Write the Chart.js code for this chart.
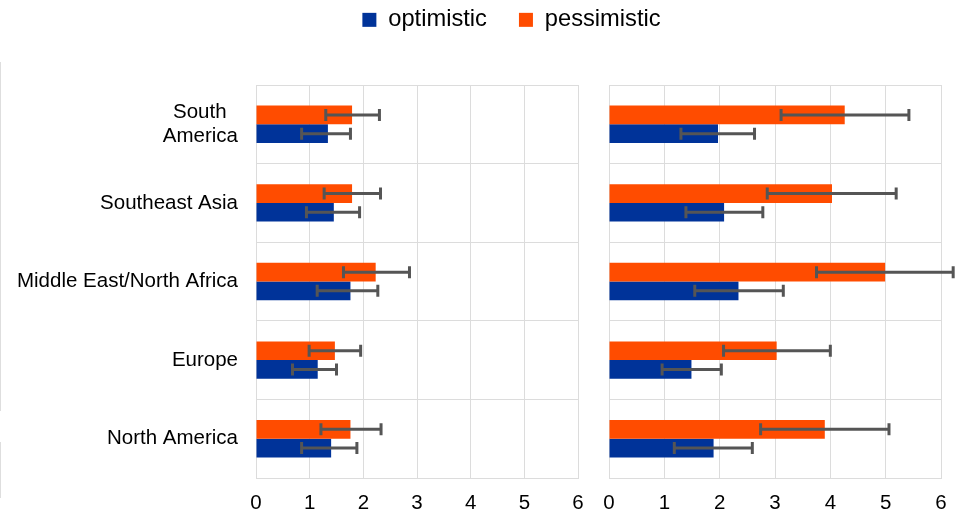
<!DOCTYPE html>
<html>
<head>
<meta charset="utf-8">
<script src="https://cdn.jsdelivr.net/npm/chart.js@4/dist/chart.umd.min.js"></script>
<style>
  html, body { margin: 0; padding: 0; background: #fff; overflow: hidden; }
  .panel { position: absolute; top: 0; height: 515px; }
  #leftWrap { left: 0; width: 600px; }
  #rightWrap { left: 82px; width: 887px; }
  .edge { position: absolute; left: 0; width: 1px; background: #dedede; }
</style>
</head>
<body>
<div class="edge" style="top:62px;height:349px"></div>
<div class="edge" style="top:442px;height:56px"></div>
<div class="panel" id="leftWrap"><canvas id="leftChart"></canvas></div>
<div class="panel" id="rightWrap"><canvas id="rightChart"></canvas></div>
<script>
// Regions, top to bottom
const categories = [['South', 'America'], 'Southeast Asia', 'Middle East/North Africa', 'Europe', 'North America'];
const seriesNames = ['optimistic', 'pessimistic'];
const xTicks = [0, 1, 2, 3, 4, 5, 6];

// Left panel
const leftOptimistic      = [1.34, 1.45, 1.76, 1.15, 1.40];
const leftOptimisticLow   = [0.85, 0.94, 1.14, 0.68, 0.85];
const leftOptimisticHigh  = [1.76, 1.93, 2.27, 1.50, 1.88];
const leftPessimistic     = [1.79, 1.79, 2.23, 1.47, 1.76];
const leftPessimisticLow  = [1.30, 1.27, 1.63, 0.99, 1.21];
const leftPessimisticHigh = [2.30, 2.32, 2.86, 1.95, 2.33];

// Right panel
const rightOptimistic      = [1.97, 2.08, 2.34, 1.49, 1.89];
const rightOptimisticLow   = [1.30, 1.39, 1.55, 0.96, 1.18];
const rightOptimisticHigh  = [2.63, 2.78, 3.15, 2.03, 2.59];
const rightPessimistic     = [4.26, 4.03, 4.99, 3.03, 3.90];
const rightPessimisticLow  = [3.11, 2.86, 3.75, 2.07, 2.74];
const rightPessimisticHigh = [5.42, 5.19, 6.22, 4.00, 5.06];

const BLUE = '#003399';
const ORANGE = '#ff4c00';
const GRID = '#dcdcdc';
const FONT = '"Liberation Sans", Arial, sans-serif';

// Whisker lines with end caps, drawn from each dataset's low/high arrays
const errorBars = {
  id: 'errorBars',
  afterDatasetsDraw(chart) {
    const ctx = chart.ctx;
    const x = chart.scales.x;
    ctx.save();
    ctx.strokeStyle = '#555555';
    ctx.lineWidth = 3;
    ctx.lineCap = 'butt';
    chart.data.datasets.forEach((ds, i) => {
      const meta = chart.getDatasetMeta(i);
      meta.data.forEach((bar, j) => {
        const lo = x.getPixelForValue(ds.errorLow[j]);
        const hi = x.getPixelForValue(ds.errorHigh[j]);
        const y = bar.y;
        const cap = 6;
        ctx.beginPath();
        ctx.moveTo(lo, y); ctx.lineTo(hi, y);
        ctx.moveTo(lo, y - cap); ctx.lineTo(lo, y + cap);
        ctx.moveTo(hi, y - cap); ctx.lineTo(hi, y + cap);
        ctx.stroke();
      });
    });
    ctx.restore();
  }
};

// Extra room beneath the legend so the plot starts lower
const legendSpacer = {
  id: 'legendSpacer',
  beforeInit(chart) {
    if (!chart.legend) return;
    const fit = chart.legend.fit;
    chart.legend.fit = function () {
      fit.call(this);
      this.height = 109;
    };
  }
};

// Center the lines of a multi-line label against each other
const measureCtx = document.createElement('canvas').getContext('2d');
measureCtx.font = '20.5px ' + FONT;
function centerLines(label) {
  if (!Array.isArray(label)) return label;
  const widths = label.map(l => measureCtx.measureText(l).width);
  const maxW = Math.max(...widths);
  const spaceW = measureCtx.measureText(' ').width;
  return label.map((l, k) => l + ' '.repeat(Math.round((maxW - widths[k]) / 2 / spaceW)));
}

function makeDatasets(opt, optLow, optHigh, pes, pesLow, pesHigh) {
  return [
    { label: seriesNames[1], data: pes, errorLow: pesLow, errorHigh: pesHigh,
      backgroundColor: ORANGE, borderWidth: 0, categoryPercentage: 0.476, barPercentage: 1.0 },
    { label: seriesNames[0], data: opt, errorLow: optLow, errorHigh: optHigh,
      backgroundColor: BLUE, borderWidth: 0, categoryPercentage: 0.476, barPercentage: 1.0 }
  ];
}

function xScale() {
  return {
    type: 'linear',
    min: xTicks[0],
    max: xTicks[xTicks.length - 1],
    afterBuildTicks(scale) { scale.ticks = xTicks.map(v => ({ value: v })); },
    afterFit(scale) { scale.height = 37; },
    grid: { color: GRID, lineWidth: 1, drawTicks: false },
    border: { color: GRID, width: 1 },
    ticks: { color: '#000', font: { family: FONT, size: 20.5 }, padding: 13 }
  };
}

function yScale(width, showLabels) {
  return {
    type: 'category',
    afterFit(scale) {
      scale.width = width;
      scale.paddingTop = 0;
      scale.paddingBottom = 0;
    },
    grid: { color: GRID, lineWidth: 1, drawTicks: false, offset: true },
    border: { color: GRID, width: 1 },
    ticks: showLabels ? {
      color: '#000',
      font: { family: FONT, size: 20.5, lineHeight: 1.17 },
      padding: 18,
      callback(value) { return centerLines(this.getLabelForValue(value)); }
    } : { display: false }
  };
}

Chart.defaults.font.family = FONT;

new Chart(document.getElementById('leftChart'), {
  type: 'bar',
  data: {
    labels: categories,
    datasets: makeDatasets(leftOptimistic, leftOptimisticLow, leftOptimisticHigh,
                           leftPessimistic, leftPessimisticLow, leftPessimisticHigh)
  },
  options: {
    indexAxis: 'y',
    responsive: true,
    maintainAspectRatio: false,
    animation: false,
    layout: { padding: { top: 85, right: 22, left: 0, bottom: 0 } },
    plugins: { legend: { display: false }, tooltip: { enabled: false } },
    scales: { x: xScale(), y: yScale(256, true) }
  },
  plugins: [errorBars]
});

new Chart(document.getElementById('rightChart'), {
  type: 'bar',
  data: {
    labels: categories,
    datasets: makeDatasets(rightOptimistic, rightOptimisticLow, rightOptimisticHigh,
                           rightPessimistic, rightPessimisticLow, rightPessimisticHigh)
  },
  options: {
    indexAxis: 'y',
    responsive: true,
    maintainAspectRatio: false,
    animation: false,
    layout: { padding: { top: -24, right: 28, left: 0, bottom: 0 } },
    plugins: {
      tooltip: { enabled: false },
      legend: {
        display: true,
        position: 'top',
        align: 'center',
        reverse: true,
        labels: {
          color: '#000',
          font: { family: FONT, size: 23.7 },
          boxWidth: 14,
          boxHeight: 14,
          padding: 32
        }
      }
    },
    scales: { x: xScale(), y: yScale(527, false) }
  },
  plugins: [errorBars, legendSpacer]
});
</script>
</body>
</html>
